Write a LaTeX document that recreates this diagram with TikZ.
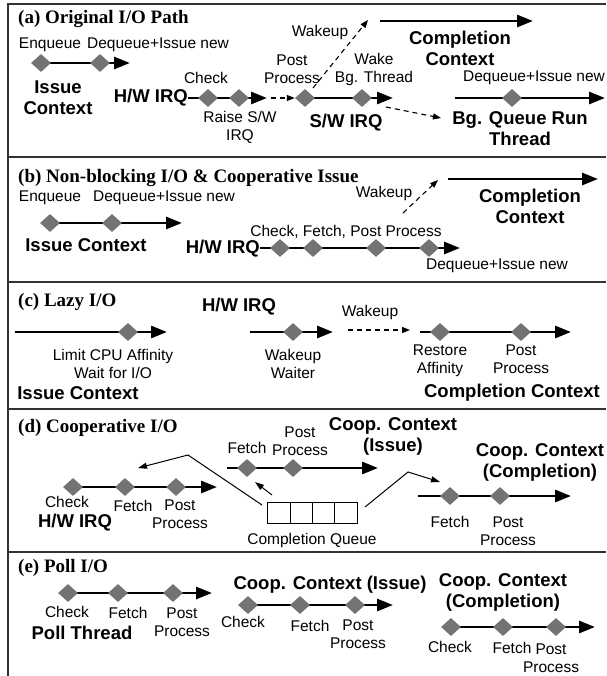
\documentclass[tikz,border=0pt]{standalone}
\usepackage{fontspec}
\setmainfont{Liberation Serif}
\newfontfamily\labfont{Liberation Sans}
\usetikzlibrary{arrows.meta,shapes.geometric}

\begin{document}
\begin{tikzpicture}[x=1pt,y=-1pt]
    \tikzset{event/.style = {shape=diamond,fill=black!55,minimum width=20pt,minimum height=18pt,inner sep=0pt}}
    \tikzset{flow/.style = {line width=2.8pt,-{Triangle[length=16pt,width=12pt]}}}
    \tikzset{wake/.style = {line width=1.1pt,dash pattern=on 5pt off 4pt,-{Triangle[length=8pt,width=6pt]}}}
    \tikzset{hand/.style = {line width=1pt,-{Triangle[length=9pt,width=6pt]}}}
    \tikzset{lbl/.style = {font=\labfont\fontsize{15.5}{18}\selectfont,align=center,inner sep=0pt}}
    \tikzset{ctx/.style = {font=\labfont\bfseries\fontsize{18.5}{21}\selectfont,align=center,inner sep=0pt}}
    \tikzset{ttl/.style = {font=\bfseries\fontsize{19}{22}\selectfont,anchor=west,inner sep=0pt}}
    \tikzset{slot/.style = {draw,line width=1pt,minimum width=22.25pt,minimum height=21pt,inner sep=0pt}}
    \tikzset{rule/.style = {line width=1.2pt,black!80}}
    \useasboundingbox (0,0) rectangle (606,676);
    % frame
    \draw[rule] (8,676) -- (8,4) -- (606,4);
    \draw[rule] (8,157) -- (606,157);
    \draw[rule] (8,282) -- (606,282);
    \draw[rule] (8,409) -- (606,409);
    \draw[rule] (8,552) -- (606,552);

    % (a) original path
    \node[ttl] (ta) at (18,19) {(a) Original I/O Path};
    \coordinate (aiS) at (41,63);
    \coordinate (aiE) at (130,63);
    \path[flow] (aiS) edge (aiE);
    \node[event] (aEnq) at (41,63) {};
    \node[event] (aDeq) at (100,63) {};
    \node[lbl] (lEnqA) at (50,45) {Enqueue};
    \node[lbl] (lDeqA) at (158,45) {Dequeue+Issue new};
    \node[ctx] (cIssA) at (58,98) {Issue\\Context};
    \node[ctx,anchor=east] (cHwA) at (188,98) {H/W IRQ};
    \coordinate (ahE) at (267,98);
    \path[flow] (cHwA) edge (ahE);
    \node[event] (aChk) at (208,98) {};
    \node[event] (aRse) at (239,98) {};
    \node[lbl] (lChkA) at (206,78) {Check};
    \node[lbl] (lRseA) at (240,127) {Raise S/W\\IRQ};
    \coordinate (asS) at (305,98);
    \coordinate (asE) at (393,98);
    \path[flow] (asS) edge (asE);
    \node[event] (aPst) at (305,98) {};
    \node[event] (aWbg) at (362,98) {};
    \node[lbl] (lPstA) at (292,69) {Post\\Process};
    \node[lbl] (lWbgA) at (374,69) {Wake\\Bg. Thread};
    \node[ctx] (cSwA) at (346,123) {S/W IRQ};
    \coordinate (acS) at (380,21);
    \coordinate (acE) at (533,21);
    \path[flow] (acS) edge (acE);
    \node[ctx] (cCmpA) at (460,48) {Completion\\Context};
    \coordinate (abS) at (455,98);
    \coordinate (abE) at (605,98);
    \path[flow] (abS) edge (abE);
    \node[event] (aBgq) at (512,98) {};
    \node[lbl] (lBgqA) at (534,78) {Dequeue+Issue new};
    \node[ctx] (cBgA) at (520,129) {Bg. Queue Run\\Thread};
    \node[lbl] (lWkA) at (320,32) {Wakeup};
    % wakeups
    \coordinate (adS) at (271,98);
    \path[wake] (adS) edge (aPst);
    \coordinate (awS) at (313,88);
    \coordinate (awE) at (368,20);
    \path[wake] (awS) edge (awE);
    \coordinate (abwS) at (386,107);
    \coordinate (abwE) at (441,118);
    \path[wake] (abwS) edge (abwE);

    % (b) non-blocking
    \node[ttl] (tb) at (18,178) {(b) Non-blocking I/O \& Cooperative Issue};
    \coordinate (biS) at (50,223);
    \coordinate (biE) at (182,223);
    \path[flow] (biS) edge (biE);
    \node[event] (bEnq) at (50,223) {};
    \node[event] (bDeq) at (112,223) {};
    \node[lbl] (lEnqB) at (50,198) {Enqueue};
    \node[lbl] (lDeqB) at (164,198) {Dequeue+Issue new};
    \node[ctx] (cIssB) at (86,245) {Issue Context};
    \node[ctx,anchor=east] (cHwB) at (260,249) {H/W IRQ};
    \coordinate (bhE) at (460,248);
    \path[flow] (cHwB.east |- bhE) edge (bhE);
    \node[event] (bChk) at (280,248) {};
    \node[event] (bFet) at (313,248) {};
    \node[event] (bPst) at (376,248) {};
    \node[event] (bDeqB) at (429,248) {};
    \node[lbl] (lCfpB) at (346,232) {Check, Fetch, Post Process};
    \node[lbl] (lDqnB) at (497,266) {Dequeue+Issue new};
    \coordinate (bwS) at (403,213);
    \coordinate (bwE) at (438,180);
    \path[wake] (bwS) edge (bwE);
    \node[lbl] (lWkB) at (384,193) {Wakeup};
    \coordinate (bcS) at (448,179);
    \coordinate (bcE) at (598,179);
    \path[flow] (bcS) edge (bcE);
    \node[ctx] (cCmpB) at (530,206) {Completion\\Context};

    % (c) lazy
    \node[ttl] (tc) at (18,302) {(c) Lazy I/O};
    \coordinate (ciS) at (15,332);
    \coordinate (ciE) at (167,332);
    \path[flow] (ciS) edge (ciE);
    \node[event] (cLim) at (128,332) {};
    \node[lbl] (lLimC) at (113,364) {Limit CPU Affinity\\Wait for I/O};
    \node[ctx] (cIssC) at (78,393) {Issue Context};
    \node[ctx] (cHwC) at (239,307) {H/W IRQ};
    \coordinate (chS) at (250,332);
    \coordinate (chE) at (333,332);
    \path[flow] (chS) edge (chE);
    \node[event] (cWak) at (293,332) {};
    \node[lbl] (lWakC) at (293,364) {Wakeup\\Waiter};
    \coordinate (cwS) at (348,330);
    \coordinate (cwE) at (410,330);
    \path[wake] (cwS) edge (cwE);
    \node[lbl] (lWkC) at (370,312) {Wakeup};
    \coordinate (ccS) at (420,332);
    \coordinate (ccE) at (571,332);
    \path[flow] (ccS) edge (ccE);
    \node[event] (cRst) at (440,332) {};
    \node[event] (cPst) at (521,332) {};
    \node[lbl] (lRstC) at (440,361) {Restore\\Affinity};
    \node[lbl] (lPstC) at (521,359) {Post\\Process};
    \node[ctx] (cCmpC) at (512,393) {Completion Context};

    % (d) cooperative
    \node[ttl] (td) at (18,428) {(d) Cooperative I/O};
    \coordinate (dhS) at (73,487);
    \coordinate (dhE) at (217,487);
    \path[flow] (dhS) edge (dhE);
    \node[event] (dChk) at (73,487) {};
    \node[event] (dFet) at (125,487) {};
    \node[event] (dPst) at (176,487) {};
    \node[lbl] (lChkD) at (67,502) {Check};
    \node[lbl] (lFetD) at (133,506) {Fetch};
    \node[lbl] (lPstD) at (180,514) {Post\\Process};
    \node[ctx] (cHwD) at (75,523) {H/W IRQ};
    \coordinate (diS) at (227,468);
    \coordinate (diE) at (378,468);
    \path[flow] (diS) edge (diE);
    \node[event] (dFetI) at (247,468) {};
    \node[event] (dPstI) at (293,468) {};
    \node[lbl] (lFetI) at (247,448) {Fetch};
    \node[lbl] (lPstI) at (300,441) {Post\\Process};
    \node[ctx] (cIssD) at (393,436) {Coop. Context\\(Issue)};
    \coordinate (dcS) at (418,496);
    \coordinate (dcE) at (571,496);
    \path[flow] (dcS) edge (dcE);
    \node[event] (dFetC) at (450,496) {};
    \node[event] (dPstC) at (500,496) {};
    \node[lbl] (lFetC) at (450,522) {Fetch};
    \node[lbl] (lPstC) at (508,531) {Post\\Process};
    \node[ctx] (cCmpD) at (540,462) {Coop. Context\\(Completion)};
    \node[slot] (q1) at (279.1,512.5) {};
    \node[slot] (q2) at (301.4,512.5) {};
    \node[slot] (q3) at (323.6,512.5) {};
    \node[slot] (q4) at (345.9,512.5) {};
    \node[lbl] (lQue) at (312,540) {Completion Queue};
    \coordinate (dlS) at (262,505);
    \coordinate (dlB) at (188,455);
    \coordinate (dlE) at (138,468);
    \draw[hand] (dlS) -- (dlB) -- (dlE);
    \coordinate (duS) at (272,495);
    \coordinate (duE) at (255,482);
    \draw[hand] (duS) -- (duE);
    \coordinate (drS) at (365,507);
    \coordinate (drB) at (408,472);
    \coordinate (drE) at (440,482);
    \draw[hand] (drS) -- (drB) -- (drE);

    % (e) poll
    \node[ttl] (te) at (18,568) {(e) Poll I/O};
    \coordinate (epS) at (68,593);
    \coordinate (epE) at (212,593);
    \path[flow] (epS) edge (epE);
    \node[event] (eChk) at (68,593) {};
    \node[event] (eFet) at (118,593) {};
    \node[event] (ePst) at (173,593) {};
    \node[lbl] (lChkE) at (67,612) {Check};
    \node[lbl] (lFetE) at (128,613) {Fetch};
    \node[lbl] (lPstE) at (182,622) {Post\\Process};
    \node[ctx] (cPol) at (82,633) {Poll Thread};
    \coordinate (eiS) at (248,605);
    \coordinate (eiE) at (393,605);
    \path[flow] (eiS) edge (eiE);
    \node[event] (eChkI) at (248,605) {};
    \node[event] (eFetI) at (300,605) {};
    \node[event] (ePstI) at (355,605) {};
    \node[lbl] (lChkI) at (243,622) {Check};
    \node[lbl] (lFetI) at (310,626) {Fetch};
    \node[lbl] (lPstI) at (358,634) {Post\\Process};
    \node[ctx] (cIssE) at (330,585) {Coop. Context (Issue)};
    \coordinate (ecS) at (451,627);
    \coordinate (ecE) at (595,627);
    \path[flow] (ecS) edge (ecE);
    \node[event] (eChkC) at (451,627) {};
    \node[event] (eFetC) at (503,627) {};
    \node[event] (ePstC) at (556,627) {};
    \node[lbl] (lChkC) at (450,647) {Check};
    \node[lbl] (lFetC) at (512,648) {Fetch};
    \node[lbl] (lPstC) at (551,658) {Post\\Process};
    \node[ctx] (cCmpE) at (503,592) {Coop. Context\\(Completion)};
\end{tikzpicture}
\end{document}
